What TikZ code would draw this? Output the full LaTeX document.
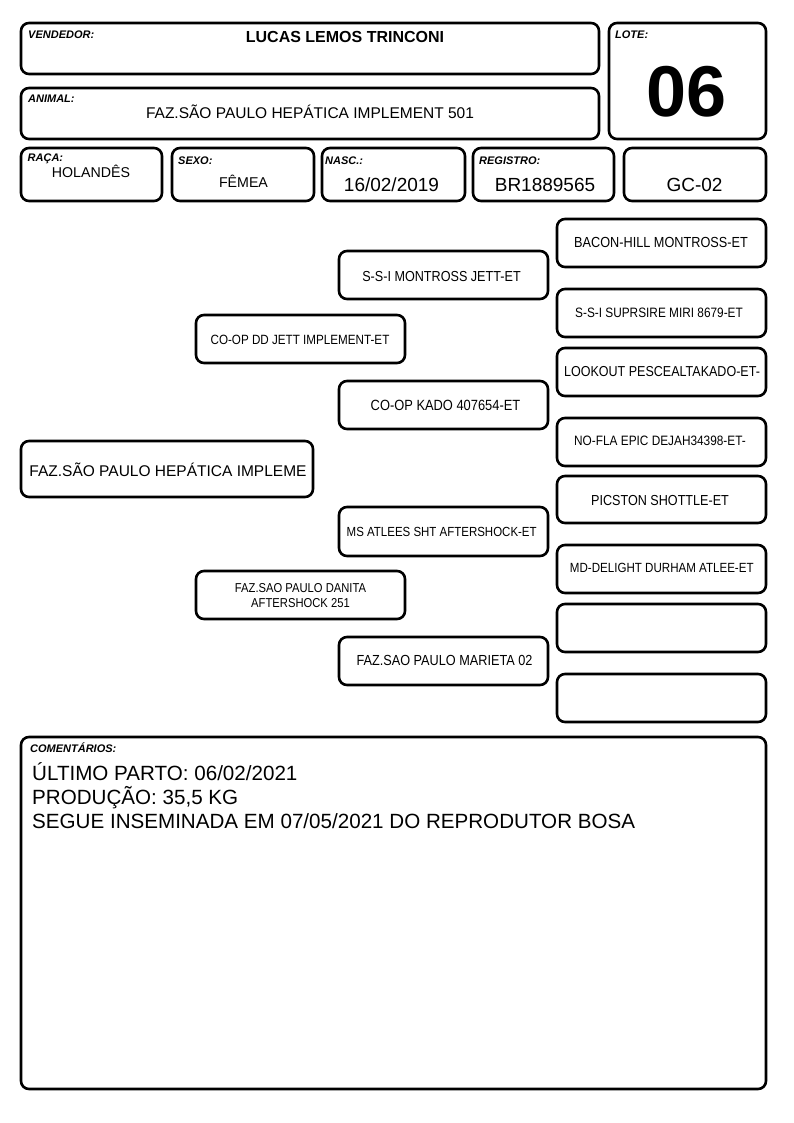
\documentclass[tikz,border=0pt]{standalone}
\usepackage{fontspec}
\usepackage{graphicx}
\setmainfont{Liberation Sans}
\usetikzlibrary{fit}
\newcommand{\fs}[1]{\fontsize{#1}{#1}\selectfont}
\newcommand{\cnd}[2]{{\fs{#1}\scalebox{0.87}[1]{#2}}}
\tikzset{
  box/.style={draw=black, line width=2.6pt, rounded corners=8pt, inner sep=0pt, fit={#1}},
  lbl/.style={anchor=base west, inner sep=0pt, font=\fs{11}\bfseries\itshape},
  val/.style={anchor=base, inner sep=0pt},
  cmt/.style={anchor=base west, inner sep=0pt, font=\fs{20.6}},
}
\begin{document}
\begin{tikzpicture}[x=1pt, y=-1pt]
\fill[white] (0,0) rectangle (794,1123);
\useasboundingbox (0,0) rectangle (794,1123);

% header boxes
\node[box={(21,23) (599,74)}] (vend) {};
\node[box={(609,23) (766,139)}] (lote) {};
\node[box={(21,88) (599,139)}] (anim) {};
\node[box={(21,148) (162,201)}] (raca) {};
\node[box={(172,148) (314,201)}] (sexo) {};
\node[box={(322,148) (465,201)}] (nasc) {};
\node[box={(473,148) (614,201)}] (reg) {};
\node[box={(624,148) (766,201)}] (gc) {};

\node[lbl] (vendL) at (28,39) {VENDEDOR:};
\node[val, font=\fs{16}\bfseries] (vendV) at (345,43) {LUCAS LEMOS TRINCONI};
\node[lbl] (loteL) at (615,38.5) {LOTE:};
\node[val, font=\fs{72}\bfseries] (loteV) at (686.5,117) {06};
\node[lbl] (animL) at (28,102.5) {ANIMAL:};
\node[val, font=\fs{15.5}] (animV) at (310,119) {FAZ.SÃO PAULO HEPÁTICA IMPLEMENT 501};
\node[lbl] (racaL) at (27.5,161.5) {RAÇA:};
\node[val, font=\fs{14.2}] (racaV) at (91,178) {HOLANDÊS};
\node[lbl] (sexoL) at (178,165) {SEXO:};
\node[val, font=\fs{14.2}] (sexoV) at (243.5,188) {FÊMEA};
\node[lbl] (nascL) at (325,165) {NASC.:};
\node[val, font=\fs{19}] (nascV) at (391.5,191.5) {16/02/2019};
\node[lbl] (regL) at (479,165) {REGISTRO:};
\node[val, font=\fs{19}] (regV) at (545,191.5) {BR1889565};
\node[val, font=\fs{19}] (gcV) at (694.5,191.5) {GC-02};

% pedigree boxes
\node[box={(21,441) (313,497)}] (main) {};
\node[box={(196,315) (405,363)}] (s) {};
\node[box={(196,571) (405,619)}] (d) {};
\node[box={(339,251) (548,299)}] (ss) {};
\node[box={(339,381) (548,429)}] (sd) {};
\node[box={(339,507) (548,556)}] (ds) {};
\node[box={(339,637) (548,685)}] (dd) {};
\node[box={(557,219) (766,267)}] (sss) {};
\node[box={(557,289) (766,337)}] (ssd) {};
\node[box={(557,348) (766,396)}] (sds) {};
\node[box={(557,418) (766,466)}] (sdd) {};
\node[box={(557,476) (766,523)}] (dss) {};
\node[box={(557,545) (766,593)}] (dsd) {};
\node[box={(557,604) (766,652)}] (dds) {};
\node[box={(557,674) (766,722)}] (ddd) {};

\node[val, font=\fs{15.5}] (mainV) at (168,476.5) {FAZ.SÃO PAULO HEPÁTICA IMPLEME};
\node[val] (sV) at (300,344) {\cnd{13.4}{CO-OP DD JETT IMPLEMENT-ET}};
\node[inner sep=0pt, align=center, font=\fontsize{12.9}{14.8}\selectfont] (dV) at (300.5,595.5) {\cnd{12.9}{FAZ.SAO PAULO DANITA}\\\cnd{12.9}{AFTERSHOCK 251}};
\node[val] (ssV) at (441.5,281.5) {\cnd{14.5}{S-S-I MONTROSS JETT-ET}};
\node[val] (sdV) at (445.5,410) {\cnd{14.8}{CO-OP KADO 407654-ET}};
\node[val] (dsV) at (441.7,536.5) {\cnd{13.2}{MS ATLEES SHT AFTERSHOCK-ET}};
\node[val] (ddV) at (444.5,665.5) {\cnd{14.6}{FAZ.SAO PAULO MARIETA 02}};
\node[val] (sssV) at (661,247.5) {\cnd{14.6}{BACON-HILL MONTROSS-ET}};
\node[val] (ssdV) at (659,317.3) {\cnd{13.6}{S-S-I SUPRSIRE MIRI 8679-ET}};
\node[val] (sdsV) at (662,376.5) {\cnd{14.4}{LOOKOUT PESCEALTAKADO-ET-}};
\node[val] (sddV) at (660,445.5) {\cnd{13.6}{NO-FLA EPIC DEJAH34398-ET-}};
\node[val] (dssV) at (660,505) {\cnd{14.5}{PICSTON SHOTTLE-ET}};
\node[val] (dsdV) at (661.8,572.5) {\cnd{13.3}{MD-DELIGHT DURHAM ATLEE-ET}};

% comments
\node[box={(21,737) (766,1089)}] (com) {};
\node[lbl] (comL) at (30,752.5) {COMENTÁRIOS:};
\node[cmt] (c1) at (32,780) {ÚLTIMO PARTO: 06/02/2021};
\node[cmt] (c2) at (32,804) {PRODUÇÃO: 35,5 KG};
\node[cmt] (c3) at (32,828) {SEGUE INSEMINADA EM 07/05/2021 DO REPRODUTOR BOSA};
\end{tikzpicture}
\end{document}
